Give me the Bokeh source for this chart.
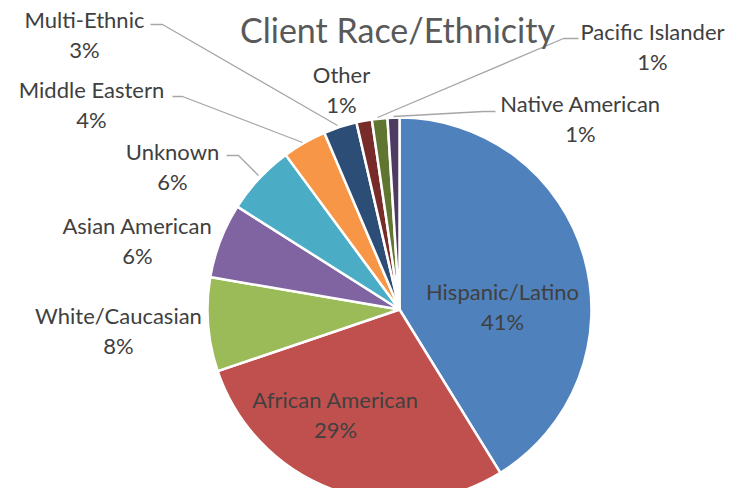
import math
from bokeh.plotting import figure
from bokeh.models import Range1d, ColumnDataSource
from bokeh.core.properties import value
from bokeh.embed import file_html
from bokeh.resources import INLINE

# ---- data ----
categories = ["Hispanic/Latino", "African American", "White/Caucasian", "Asian American",
              "Unknown", "Middle Eastern", "Multi-Ethnic", "Other", "Pacific Islander",
              "Native American"]
shares = [41.2, 28.6, 7.9, 6.3, 5.9, 3.7, 2.8, 1.3, 1.3, 1.0]
colors = ["#4F81BD", "#C0504D", "#9BBB59", "#8064A2", "#4BACC6", "#F79646",
          "#2C4D75", "#772C2A", "#5F7530", "#4D3B62"]
title_text = "Client Race/Ethnicity"

# ---- layout (reference pixel coords; data y = 504 - pixel y) ----
H = 504
cx, cy, R = 399, 309, 192
label_pos = {
    "Hispanic/Latino": (502, 291),
    "African American": (335, 399),
    "White/Caucasian": (118, 315),
    "Asian American": (137, 225),
    "Unknown": (172, 151),
    "Middle Eastern": (91, 89),
    "Multi-Ethnic": (84, 19),
    "Other": (341, 74),
    "Pacific Islander": (652, 31),
    "Native American": (580, 103),
}
leaders = [
    [(150, 24), (162, 24), (337, 125)],
    [(172, 96), (182, 96), (302, 142)],
    [(226, 155), (238, 155), (258, 175)],
    [(578, 38), (563, 38), (377, 117)],
    [(495, 111), (483, 111), (393, 116)],
]

total = sum(shares)
starts, ends = [], []
cum = 0.0
for s in shares:
    starts.append(math.pi / 2 - 2 * math.pi * cum / total)
    cum += s
    ends.append(math.pi / 2 - 2 * math.pi * cum / total)

p = figure(width=725, height=488, output_backend="svg", toolbar_location=None,
           x_range=Range1d(0, 725), y_range=Range1d(16, 504), min_border=0)
p.axis.visible = False
p.grid.visible = False
p.outline_line_color = None
p.background_fill_color = "white"

src = ColumnDataSource(dict(start=starts, end=ends, color=colors, cat=categories))
p.wedge(x=cx, y=H - cy, radius=R, start_angle="start", end_angle="end",
        direction="clock", fill_color="color", line_color="white", line_width=2.5,
        source=src)

p.multi_line(xs=[[pt[0] for pt in l] for l in leaders],
             ys=[[H - pt[1] for pt in l] for l in leaders],
             line_color="#A6A6A6", line_width=1.3)

font = value("Lato")
lx = [label_pos[c][0] for c in categories]
ly = [H - label_pos[c][1] for c in categories]
pct = ["%d%%" % round(100 * s / total) for s in shares]
p.text(x=lx, y=ly, text=categories, text_align="center", text_baseline="middle",
       text_font=font, text_font_size="22px", text_color="#404040")
p.text(x=lx, y=[y - 30 for y in ly], text=pct, text_align="center", text_baseline="middle",
       text_font=font, text_font_size="22px", text_color="#404040")

p.text(x=[397], y=[H - 29], text=[title_text], text_align="center", text_baseline="middle",
       text_font=font, text_font_size="34px", text_color="#595959")

open("out.html", "w").write(file_html(p, INLINE))
